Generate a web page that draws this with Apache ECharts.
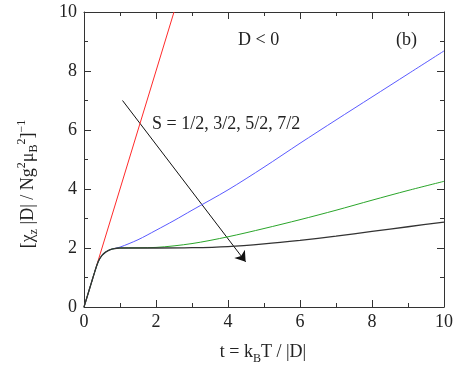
<!DOCTYPE html>
<html>
<head>
<meta charset="utf-8">
<script src="https://cdn.jsdelivr.net/npm/echarts@6/dist/echarts.min.js"></script>
<style>html,body{margin:0;padding:0;background:#fff}#c{width:457px;height:373px}</style>
</head>
<body>
<div id="c"></div>
<script>
// Data
const xTicks = [0, 2, 4, 6, 8, 10];
const yTicks = [0, 2, 4, 6, 8, 10];
const tLow = [0, 0.1, 0.2, 0.3, 0.4, 0.5, 0.6, 0.7, 0.8];
const yLow = [0, 0.4, 0.8, 1.2, 1.55, 1.75, 1.86, 1.93, 1.97];
const tRed = [0, 0.1, 0.2, 0.3, 0.45, 1, 1.5, 2, 2.5];
const yRed = [0, 0.4, 0.8, 1.2, 1.8, 4, 6, 8, 10];
const tBlue = [1, 1.5, 2, 2.5, 3, 4, 5, 6, 7, 8, 9, 10];
const yBlue = [2.03, 2.28, 2.6, 2.93, 3.28, 3.97, 4.74, 5.55, 6.34, 7.12, 7.9, 8.68];
const tGreen = [1, 2, 3, 4, 5, 6, 7, 8, 9, 10];
const yGreen = [2.0, 2.02, 2.15, 2.38, 2.66, 2.96, 3.28, 3.62, 3.95, 4.26];
const tBlack = [1, 2, 3, 4, 5, 6, 7, 8, 9, 10];
const yBlack = [2.0, 2.0, 2.01, 2.05, 2.14, 2.26, 2.40, 2.56, 2.72, 2.88];
const arrowStart = [1.07, 7.0];
const arrowEnd = [4.49, 1.53];

const zip = (a, b) => a.map((v, i) => [v, b[i]]);
const withLow = (t, y) => zip(tLow, yLow).concat(zip(t, y));

const font = 'Liberation Serif';
const axisColor = '#333';
const baseAxis = {
  min: 0, max: 10, interval: 2,
  axisLine: { show: true, onZero: false, lineStyle: { color: axisColor, width: 1 } },
  axisTick: { show: true, inside: true, length: 7, lineStyle: { color: axisColor } },
  minorTick: { show: true, splitNumber: 2, length: 4, lineStyle: { color: axisColor } },
  splitLine: { show: false },
  minorSplitLine: { show: false }
};
const labelStyle = { color: '#222', fontFamily: font, fontSize: 18 };

const chart = echarts.init(document.getElementById('c'), null, { renderer: 'canvas' });
chart.setOption({
  animation: false,
  backgroundColor: '#fff',
  grid: { left: 84, right: 13, top: 12, bottom: 66, containLabel: false },
  xAxis: [
    Object.assign({}, baseAxis, { type: 'value', position: 'bottom',
      axisLabel: Object.assign({ margin: 6, formatter: v => xTicks.includes(v) ? String(v) : '' }, labelStyle) }),
    Object.assign({}, baseAxis, { type: 'value', position: 'top', axisLabel: { show: false } })
  ],
  yAxis: [
    Object.assign({}, baseAxis, { type: 'value', position: 'left',
      axisLabel: Object.assign({ margin: 7, formatter: v => yTicks.includes(v) ? String(v) : '' }, labelStyle) }),
    Object.assign({}, baseAxis, { type: 'value', position: 'right', axisLabel: { show: false } })
  ],
  series: [
    { type: 'line', data: zip(tRed, yRed), showSymbol: false, symbol: 'none', lineStyle: { color: '#ff2a2a', width: 1 } },
    { type: 'line', data: withLow(tBlue, yBlue), smooth: 0.3, showSymbol: false, symbol: 'none', lineStyle: { color: '#5a5aff', width: 1 } },
    { type: 'line', data: withLow(tGreen, yGreen), smooth: 0.3, showSymbol: false, symbol: 'none', lineStyle: { color: '#2aa52a', width: 1 } },
    { type: 'line', data: withLow(tBlack, yBlack), smooth: 0.3, showSymbol: false, symbol: 'none', lineStyle: { color: '#333', width: 1.3 } },
    { type: 'lines', coordinateSystem: 'cartesian2d', symbol: ['none', 'arrow'], symbolSize: 10,
      lineStyle: { color: '#111', width: 1, opacity: 1 },
      data: [{ coords: [arrowStart, arrowEnd] }] }
  ],
  graphic: [
    { type: 'text', left: 238, top: 31, style: { text: 'D < 0', fontFamily: font, fontSize: 18, fill: '#222' } },
    { type: 'text', left: 396, top: 31, style: { text: '(b)', fontFamily: font, fontSize: 18, fill: '#222' } },
    { type: 'text', left: 152, top: 115, style: { text: 'S = 1/2, 3/2, 5/2, 7/2', fontFamily: font, fontSize: 18, fill: '#222' } },
    { type: 'text', x: 263, y: 352,
      style: {
        text: '{m|t = k}{s|B}{m|T / |D|}',
        align: 'center', verticalAlign: 'middle', fill: '#222',
        rich: {
          m: { fontFamily: font, fontSize: 18, lineHeight: 20, verticalAlign: 'middle', fill: '#222' },
          s: { fontFamily: font, fontSize: 12, lineHeight: 12, padding: [14, 0, 0, 0], verticalAlign: 'middle', fill: '#222' }
        }
      } },
    { type: 'text', x: 28, y: 184, rotation: Math.PI / 2,
      style: {
        text: '{m|[χ}{s|z}{m| |D| / Ng}{p|2}{m|μ}{s|B}{p|2}{m|]}{p|−1}',
        align: 'center', verticalAlign: 'middle', fill: '#222',
        rich: {
          m: { fontFamily: font, fontSize: 18, lineHeight: 20, verticalAlign: 'middle', fill: '#222' },
          s: { fontFamily: font, fontSize: 12, lineHeight: 12, padding: [12, 0, 0, 0], verticalAlign: 'middle', fill: '#222' },
          p: { fontFamily: font, fontSize: 12, lineHeight: 12, padding: [0, 0, 12, 0], verticalAlign: 'middle', fill: '#222' }
        }
      } }
  ]
});
</script>
</body>
</html>
